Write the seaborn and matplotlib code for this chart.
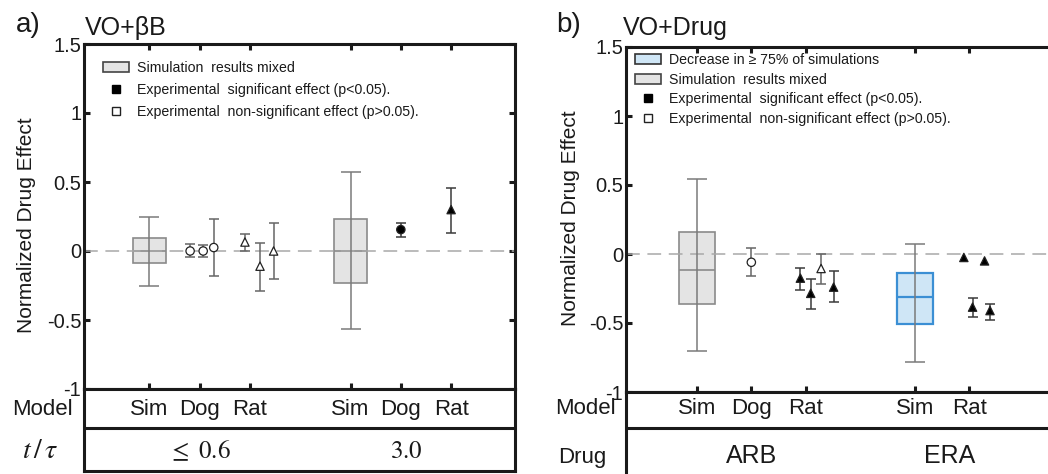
import numpy as np
import pandas as pd
import matplotlib
matplotlib.use('Agg')
import matplotlib.pyplot as plt
import seaborn as sns
from matplotlib.patches import Patch
from matplotlib.lines import Line2D

sns.set_theme(style='white')
plt.rcParams['font.family'] = ['Liberation Sans', 'DejaVu Sans']
plt.rcParams['mathtext.fontset'] = 'stix'
plt.rcParams['axes.unicode_minus'] = False

# ---- panel a) VO+bB ----
a_ticks = [1, 2, 3, 5, 6, 7]
a_models = ['Sim', 'Dog', 'Rat', 'Sim', 'Dog', 'Rat']
a_groups = [r'$\leq\ 0.6$', r'$3.0$']
a_group_x = [2, 6.1]

a_box_x = [1, 5]
a_box_med = [0.0, 0.0]
a_box_q1 = [-0.09, -0.235]
a_box_q3 = [0.095, 0.23]
a_box_lo = [-0.25, -0.565]
a_box_hi = [0.25, 0.57]
a_box_kind = ['mixed', 'mixed']

a_pt_x = [2, 2, 2, 3, 3, 3, 6, 7]
a_pt_dx = [-0.19, 0.07, 0.28, -0.1, 0.2, 0.47, 0, 0]
a_pt_y = [0.0, 0.0, 0.025, 0.065, -0.11, 0.0, 0.155, 0.30]
a_pt_lo = [-0.045, -0.04, -0.18, -0.003, -0.29, -0.205, 0.10, 0.13]
a_pt_hi = [0.05, 0.045, 0.23, 0.125, 0.055, 0.205, 0.205, 0.46]
a_pt_shape = ['circle', 'circle', 'circle', 'triangle', 'triangle', 'triangle', 'circle', 'triangle']
a_pt_sig = ['ns', 'ns', 'ns', 'ns', 'ns', 'ns', 'sig', 'sig']

# ---- panel b) VO+Drug ----
b_ticks = [1, 2, 3, 5, 6]
b_models = ['Sim', 'Dog', 'Rat', 'Sim', 'Rat']
b_groups = ['ARB', 'ERA']
b_group_x = [2, 5.63]

b_box_x = [1, 5]
b_box_med = [-0.115, -0.31]
b_box_q1 = [-0.36, -0.51]
b_box_q3 = [0.16, -0.135]
b_box_lo = [-0.70, -0.78]
b_box_hi = [0.545, 0.075]
b_box_kind = ['mixed', 'decrease']

b_pt_x = [2, 3, 3, 3, 3, 6, 6, 6, 6]
b_pt_dx = [0, -0.1, 0.09, 0.28, 0.51, -0.1, 0.06, 0.28, 0.38]
b_pt_y = [-0.06, -0.175, -0.285, -0.105, -0.24, -0.025, -0.385, -0.05, -0.41]
b_pt_lo = [-0.16, -0.26, -0.40, -0.22, -0.35, np.nan, -0.46, np.nan, -0.475]
b_pt_hi = [0.04, -0.10, -0.18, 0.0, -0.125, np.nan, -0.32, np.nan, -0.36]
b_pt_shape = ['circle'] + ['triangle'] * 8
b_pt_sig = ['ns', 'sig', 'sig', 'ns', 'sig', 'sig', 'sig', 'sig', 'sig']

y_ticks = [-1, -0.5, 0, 0.5, 1, 1.5]
y_ticklabels = ['-1', '-0.5', '0', '0.5', '1', '1.5']

BOX_STYLE = {'mixed': ('#e4e4e4', '#8a8a8a', 1.2),
             'decrease': ('#cfe6f6', '#3b8fd4', 1.6)}
INK = '#1a1a1a'

W, H = 1048, 474
fig = plt.figure(figsize=(W / 100, H / 100), dpi=100)


def fx(px):
    return px / W


def fy(py):
    return 1 - py / H


def draw_panel(ax, boxes, pts, ticks):
    for r in boxes.itertuples():
        face, edge, lw = BOX_STYLE[r.kind]
        stats = [dict(med=r.med, q1=r.q1, q3=r.q3, whislo=r.q1, whishi=r.q3, fliers=[])]
        ax.bxp(stats, positions=[r.x], widths=0.66, patch_artist=True, showcaps=False,
               boxprops=dict(facecolor=face, edgecolor=edge, linewidth=lw),
               medianprops=dict(color=edge, linewidth=lw),
               whiskerprops=dict(linewidth=0), manage_ticks=False, zorder=2)
        ax.errorbar(r.x, r.med, yerr=[[r.med - r.lo], [r.hi - r.med]], fmt='none',
                    ecolor='#7a7a7a', elinewidth=1.1, capsize=7, capthick=1.1, zorder=3)

    ax.axhline(0, color='#a8a8a8', lw=1.1, ls=(0, (9, 5)), zorder=2.5)

    for sig, col in [('ns', '#666666'), ('sig', '#3a3a3a')]:
        sub = pts[(pts.sig == sig) & pts.lo.notna()]
        ax.errorbar(sub.x, sub.y, yerr=[sub.y - sub.lo, sub.hi - sub.y], fmt='none',
                    ecolor=col, elinewidth=1.1, capsize=3.5, capthick=1.1, zorder=3)

    sns.scatterplot(data=pts, x='x', y='y', style='shape', hue='sig',
                    markers={'circle': 'o', 'triangle': '^'},
                    palette={'ns': 'white', 'sig': 'black'},
                    edgecolor='#222222', linewidth=0.9, s=36, legend=False, ax=ax, zorder=4)

    ax.set_xlim(-0.3, 8.27)
    ax.set_ylim(-1, 1.5)
    ax.set_xlabel('')
    ax.set_ylabel('')
    ax.set_xticks(ticks)
    ax.set_xticklabels([])
    ax.set_yticks(y_ticks)
    ax.set_yticklabels(y_ticklabels, fontsize=14.5, color=INK)
    ax.tick_params(direction='in', length=4, width=2.2, color=INK, pad=2,
                   top=True, right=True, bottom=True, left=True)
    for s in ax.spines.values():
        s.set_linewidth(2.2)
        s.set_color(INK)


def draw_table(tb, ticks, models, groups, group_x, y_top, y_mid, y_bot, model_base, group_base):
    tb.set_xlim(-0.3, 8.27)
    tb.set_ylim(y_bot, y_top)
    tb.set_xticks([])
    tb.set_yticks([])
    for s in tb.spines.values():
        s.set_linewidth(2.2)
        s.set_color(INK)
    tb.axhline(y_mid, color=INK, lw=2.2)
    for x, m in zip(ticks, models):
        tb.text(x, model_base, m, ha='center', va='baseline', fontsize=16, color=INK)
    for x, g in zip(group_x, groups):
        tb.text(x, group_base, g, ha='center', va='baseline', fontsize=18, color=INK)


# data frames for each panel
a_boxes = pd.DataFrame(dict(x=a_box_x, med=a_box_med, q1=a_box_q1, q3=a_box_q3,
                            lo=a_box_lo, hi=a_box_hi, kind=a_box_kind))
a_pts = pd.DataFrame(dict(x=np.add(a_pt_x, a_pt_dx), y=a_pt_y, lo=a_pt_lo, hi=a_pt_hi,
                          shape=a_pt_shape, sig=a_pt_sig))
b_boxes = pd.DataFrame(dict(x=b_box_x, med=b_box_med, q1=b_box_q1, q3=b_box_q3,
                            lo=b_box_lo, hi=b_box_hi, kind=b_box_kind))
b_pts = pd.DataFrame(dict(x=np.add(b_pt_x, b_pt_dx), y=b_pt_y, lo=b_pt_lo, hi=b_pt_hi,
                          shape=b_pt_shape, sig=b_pt_sig))

ax_a = fig.add_axes([fx(84), fy(389), 431 / W, 345 / H])
tb_a = fig.add_axes([fx(84), fy(471), 431 / W, 82 / H])
ax_b = fig.add_axes([fx(626), fy(392), 467 / W, 345 / H])
tb_b = fig.add_axes([fx(626), fy(475), 467 / W, 83 / H])

draw_panel(ax_a, a_boxes, a_pts, a_ticks)
draw_panel(ax_b, b_boxes, b_pts, b_ticks)
draw_table(tb_a, a_ticks, a_models, a_groups, a_group_x, 389, 428, 471, 415, 458)
draw_table(tb_b, b_ticks, b_models, b_groups, b_group_x, 392, 428, 475, 414, 463)

# legends
h_dec = Patch(facecolor='#cfe6f6', edgecolor='#333333', lw=1.2, label='Decrease in ≥ 75% of simulations')
h_mix = Patch(facecolor='#e4e4e4', edgecolor='#444444', lw=1.2, label='Simulation  results mixed')
h_sig = Line2D([], [], ls='none', marker='s', ms=6, mfc='black', mec='black',
               label='Experimental  significant effect (p<0.05).')
h_ns = Line2D([], [], ls='none', marker='s', ms=6, mfc='white', mec='#222222', mew=1,
              label='Experimental  non-significant effect (p>0.05).')

leg_kw = dict(loc='upper left', frameon=False, fontsize=10.2, borderpad=0, borderaxespad=0,
              handlelength=1.8, handletextpad=0.6, labelcolor=INK)
ax_a.legend(handles=[h_mix, h_sig, h_ns], bbox_to_anchor=(19 / 431, 1 - 17 / 345),
            labelspacing=0.55, **leg_kw)
ax_b.legend(handles=[h_dec, h_mix, h_sig, h_ns], bbox_to_anchor=(9 / 467, 1 - 6 / 345),
            labelspacing=0.4, **leg_kw)

# y labels, titles, panel letters, row labels
fig.text(fx(27), fy(225), 'Normalized Drug Effect', rotation=90, ha='center', va='center',
         fontsize=15, color=INK)
fig.text(fx(571), fy(218), 'Normalized Drug Effect', rotation=90, ha='center', va='center',
         fontsize=15, color=INK)
fig.text(fx(85), fy(35), 'VO+βB', fontsize=18, color=INK, va='baseline')
fig.text(fx(623), fy(35), 'VO+Drug', fontsize=18, color=INK, va='baseline')
fig.text(fx(16), fy(32), 'a)', fontsize=20, color=INK, va='baseline')
fig.text(fx(556), fy(32), 'b)', fontsize=20, color=INK, va='baseline')

fig.text(fx(73), fy(415), 'Model', fontsize=16, color=INK, ha='right', va='baseline')
fig.text(fx(40), fy(458), r'$t\,/\,\tau$', fontsize=20, color=INK, ha='center', va='baseline')
fig.text(fx(616), fy(414), 'Model', fontsize=16, color=INK, ha='right', va='baseline')
fig.text(fx(582), fy(463), 'Drug', fontsize=16, color=INK, ha='center', va='baseline')

fig.savefig('out.png', dpi=100)
